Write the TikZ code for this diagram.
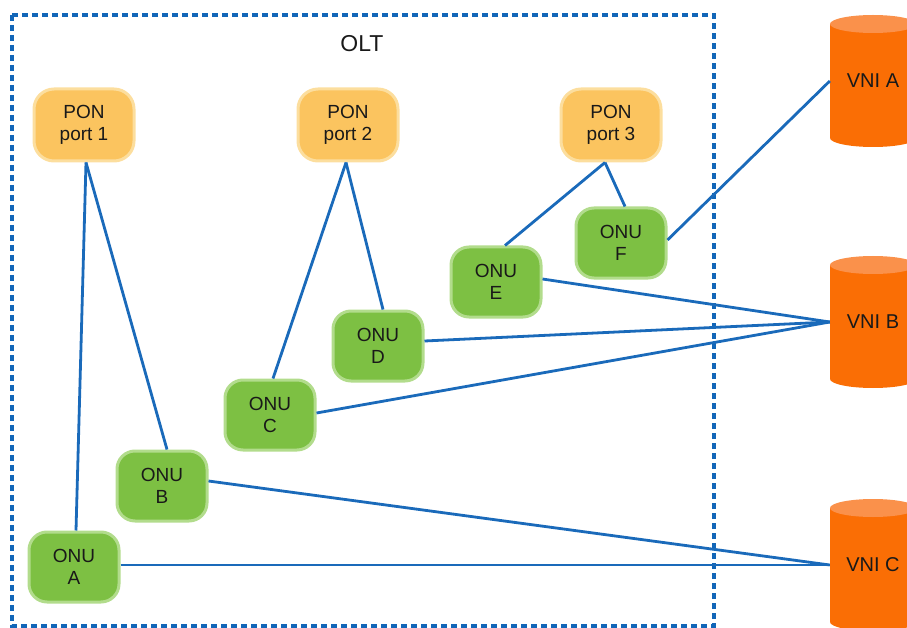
\documentclass[tikz,border=0pt]{standalone}
\usepackage{fontspec}
\setmainfont{Liberation Sans}
\usetikzlibrary{calc}
\definecolor{linkblue}{RGB}{26,106,186}
\definecolor{boxblue}{RGB}{18,102,184}
\definecolor{ponfill}{RGB}{251,196,95}
\definecolor{ponhalo}{RGB}{252,222,158}
\definecolor{onufill}{RGB}{125,192,67}
\definecolor{onuhalo}{RGB}{178,220,140}
\definecolor{vnibodyc}{RGB}{250,110,5}
\definecolor{vnitopc}{RGB}{250,145,75}
\definecolor{txt}{RGB}{25,25,25}
\newcommand{\vnicyl}[1]{%
  \fill[vnibodyc] ($(#1)+(-43,-57)$) -- ($(#1)+(-43,57)$)
     arc[start angle=180,end angle=360,x radius=43pt,y radius=9pt]
     -- ($(#1)+(43,-57)$) -- cycle;
  \fill[vnitopc] ($(#1)+(0,-57)$) ellipse[x radius=43pt,y radius=9pt];}
\begin{document}
\begin{tikzpicture}[x=1pt,y=-1pt,
  ponbox/.style={rectangle, rounded corners=20pt, fill=ponfill, draw=ponhalo,
    line width=3pt, minimum width=100pt, minimum height=72pt, align=center,
    inner sep=0pt, text=txt, font=\fontsize{19}{22.5}\selectfont},
  onubox/.style={rectangle, rounded corners=18pt, fill=onufill, draw=onuhalo,
    line width=3pt, minimum width=90pt, minimum height=70pt, align=center,
    inner sep=0pt, text=txt, font=\fontsize{19}{22.5}\selectfont},
  vnibox/.style={rectangle, minimum width=86pt, minimum height=100pt,
    inner sep=0pt, text=txt, font=\fontsize{20}{24}\selectfont},
  link/.style={draw=linkblue, line width=2.8pt},
  oltframe/.style={draw=boxblue, line width=4pt, dash pattern=on 6pt off 4pt}]
\useasboundingbox (0,0) rectangle (907,628);
% OLT frame
\draw[oltframe] (12,15) rectangle (714,626);
\node[font=\fontsize{23}{26}\selectfont, text=txt] (olt) at (362,44) {OLT};
% VNI cylinders
\vnicyl{873,81}
\vnicyl{873,322}
\vnicyl{873,565}
\node[vnibox] (vA) at (873,81) {VNI A};
\node[vnibox] (vB) at (873,322) {VNI B};
\node[vnibox] (vC) at (873,565) {VNI C};
% PON ports
\node[ponbox] (p1) at (84,125) {PON\\port 1};
\node[ponbox] (p2) at (348,125) {PON\\port 2};
\node[ponbox] (p3) at (611,125) {PON\\port 3};
% ONUs
\node[onubox] (oA) at (74,567) {ONU\\A};
\node[onubox] (oB) at (162,486) {ONU\\B};
\node[onubox] (oC) at (270,415) {ONU\\C};
\node[onubox] (oD) at (378,346) {ONU\\D};
\node[onubox] (oE) at (496,282) {ONU\\E};
\node[onubox] (oF) at (621,243) {ONU\\F};
% PON to ONU links
\draw[link] ([xshift=2pt]p1.south) -- ([xshift=2pt]oA.north);
\draw[link] ([xshift=2pt]p1.south) -- ([xshift=5pt]oB.north);
\draw[link] ([xshift=-2pt]p2.south) -- ([xshift=3pt]oC.north);
\draw[link] ([xshift=-2pt]p2.south) -- ([xshift=5pt]oD.north);
\draw[link] ([xshift=-6pt]p3.south) -- ([xshift=9pt]oE.north);
\draw[link] ([xshift=-6pt]p3.south) -- ([xshift=4pt]oF.north);
% ONU to VNI links
\draw[link] ([yshift=3pt]oF.east) -- (vA.west);
\draw[link] ([yshift=3pt]oE.east) -- (vB.west);
\draw[link] ([yshift=5pt]oD.east) -- (vB.west);
\draw[link] ([yshift=2pt]oC.east) -- (vB.west);
\draw[link] ([yshift=5pt]oB.east) -- (vC.west);
\draw[link] ([yshift=2pt]oA.east) -- (vC.west);
\end{tikzpicture}
\end{document}
